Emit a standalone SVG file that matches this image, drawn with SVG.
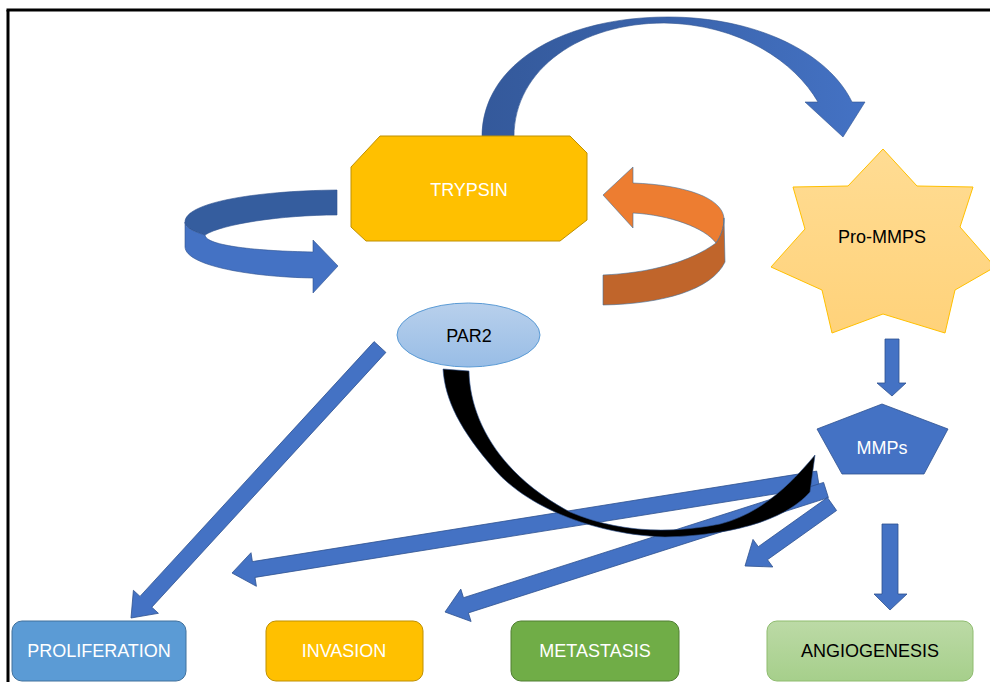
<svg xmlns="http://www.w3.org/2000/svg" width="990" height="682" viewBox="0 0 990 682">
  <defs>
    <linearGradient id="arcGrad" gradientUnits="userSpaceOnUse" x1="482" y1="0" x2="865" y2="0">
      <stop offset="0" stop-color="#34599b"/>
      <stop offset="0.45" stop-color="#3a63aa"/>
      <stop offset="1" stop-color="#4472c4"/>
    </linearGradient>
    <linearGradient id="starGrad" x1="0" y1="0" x2="0" y2="1">
      <stop offset="0" stop-color="#ffdc93"/>
      <stop offset="1" stop-color="#ffd27a"/>
    </linearGradient>
    <linearGradient id="parGrad" x1="0" y1="0" x2="0" y2="1">
      <stop offset="0" stop-color="#b8d0ec"/>
      <stop offset="1" stop-color="#98bde6"/>
    </linearGradient>
    <linearGradient id="angGrad" x1="0" y1="0" x2="0" y2="1">
      <stop offset="0" stop-color="#bcdaa6"/>
      <stop offset="1" stop-color="#a6cf8b"/>
    </linearGradient>
  </defs>
  <style>
    .lbl { font-family: "Liberation Sans", Arial, sans-serif; font-size: 18px; text-anchor: middle; }
    .w { fill: #ffffff; }
    .k { fill: #000000; }
    .blue { fill: #4472c4; stroke: #2f528f; stroke-width: 0.8; }
    .box { stroke-width: 1; }
  </style>
  <rect x="0" y="0" width="990" height="682" fill="#ffffff"/>
  <g id="frame" stroke="#000" stroke-width="3" fill="none">
    <line x1="6.5" y1="10" x2="990" y2="10"/>
    <line x1="8" y1="10" x2="8" y2="682"/>
  </g>

  <g id="connectors">
    <path d="M482,137 C482,62 565,17 668,17 C755,17 828,52 852,102 L865,102 L843,137 L805,102 L818,102 C795,62 740,24 664,23 C582,23 514,68 514,137 Z" fill="url(#arcGrad)" stroke="#2f528f" stroke-width="0.6"/>
    <path d="M337,190 C252,191 185,203 185,222 C185,228 195,232 205,235 C222,224 282,215 337,215 Z" fill="#355d9e" stroke="#2f528f" stroke-width="0.6"/>
    <path d="M185,222 L185,247 C186,266 252,277 313,278 L313,293 L338,266 L313,240 L313,252 C258,251 206,246 205,235 C195,232 185,228 185,222 Z" fill="#4472c4" stroke="#2f528f" stroke-width="0.6"/>
    <path d="M633,167 L603,195 L633,228 L633,213 C670,215 705,228 716,243 C721,236 724,228 724,218 C722,198 686,185 633,183 Z" fill="#ed7d31" stroke="#41719c" stroke-width="0.6"/>
    <path d="M716,243 C690,262 650,273 603,275 L603,305 C662,304 712,290 725,262 L724,218 C724,228 721,236 716,243 Z" fill="#c0652b" stroke="#41719c" stroke-width="0.6"/>
    <polygon class="blue" points="374.1,341.6 385.9,352.4 151.8,607.2 158.4,613.3 131,618 133.4,590.3 140,596.4"/>
    <polygon class="blue" points="816.7,471.1 819.3,486.9 255,577.4 256.4,586.3 232,573 251,552.7 252.4,561.6"/>
    <polygon class="blue" points="823.6,482.4 828.4,497.6 468.4,612.9 471.1,621.5 445,612 460.8,589.1 463.5,597.7"/>
    <polygon class="blue" points="827.4,497.5 836.6,510.5 767.5,559.7 772.8,567 745,566 753,539.4 758.3,546.7"/>
    <polygon class="blue" points="885,339 899,339 899,383 906,383 892,396 877,383 885,383"/>
    <polygon class="blue" points="882,524 898,524 898,594 907,594 890,610 874,594 882,594"/>
    <path d="M443,369 L469,371 C470,420 500,475 570,512 C615,531 665,535 720,524 C760,514 790,485 815,455 L810,492 C790,515 745,535 665,537 C600,535 530,510 495,470 C460,430 445,400 443,369 Z" fill="#000000" stroke="#2f528f" stroke-width="0.6"/>
  </g>

  <g id="trypsin">
    <polygon points="380,136 570,136 587,153 587,220 560,241 366,241 351,227 351,167" fill="#ffc000" stroke="#bf9000" stroke-width="1"/>
    <text class="lbl w" x="469" y="196">TRYPSIN</text>
  </g>

  <g id="par2">
    <ellipse cx="468.5" cy="335" rx="71.5" ry="32" fill="url(#parGrad)" stroke="#5b9bd5" stroke-width="1"/>
    <text class="lbl k" x="469" y="342">PAR2</text>
  </g>

  <g id="pro-mmps">
    <polygon points="883,149 917,186 973,187 960,227 995,267 955,290 945,333 883,314 832,333 822,290 771,267 805,229 793,187 848,186" fill="url(#starGrad)" stroke="#ffc000" stroke-width="1"/>
    <text class="lbl k" x="882" y="243">Pro-MMPS</text>
  </g>

  <g id="mmps">
    <polygon points="882,404 948,429 924,474 842,474 817,429" fill="#4472c4" stroke="#2f528f" stroke-width="0.8"/>
    <text class="lbl w" x="882" y="454">MMPs</text>
  </g>

  <g id="proliferation">
    <rect class="box" x="12" y="621" width="174" height="60" rx="10" fill="#5b9bd5" stroke="#41719c"/>
    <text class="lbl w" x="99" y="657">PROLIFERATION</text>
  </g>
  <g id="invasion">
    <rect class="box" x="266" y="621" width="157" height="60" rx="10" fill="#ffc000" stroke="#bf9000"/>
    <text class="lbl w" x="344" y="657">INVASION</text>
  </g>
  <g id="metastasis">
    <rect class="box" x="511" y="621" width="168" height="60" rx="10" fill="#70ad47" stroke="#507e32"/>
    <text class="lbl w" x="595" y="657">METASTASIS</text>
  </g>
  <g id="angiogenesis">
    <rect class="box" x="767" y="621" width="206" height="60" rx="10" fill="url(#angGrad)" stroke="#8fbc6f"/>
    <text class="lbl k" x="870" y="657">ANGIOGENESIS</text>
  </g>
</svg>
